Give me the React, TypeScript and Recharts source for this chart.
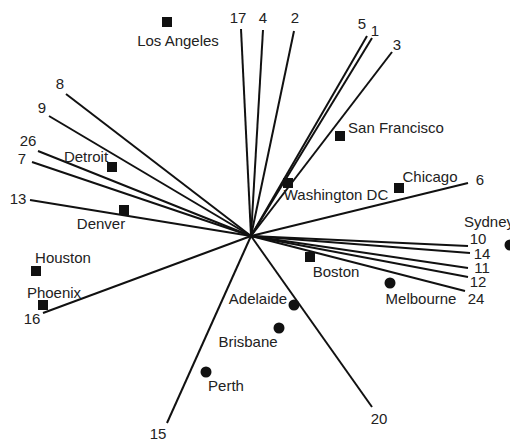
import { ReferenceLine, Scatter, ScatterChart, XAxis, YAxis } from "recharts";

// biplot vectors (variable number, loading on axis 1, axis 2)
const vectorIds = ["1", "2", "3", "4", "5", "6", "7", "8", "9", "10", "11", "12", "13", "14", "15", "16", "17", "20", "24", "26"];
const vectorX = [1.21, 0.43, 1.41, 0.12, 1.16, 2.17, -2.19, -1.85, -2.02, 2.17, 2.17, 2.17, -2.21, 2.19, -0.84, -2.08, -0.1, 1.21, 2.14, -2.13];
const vectorY = [1.98, 2.05, 1.84, 2.06, 2.0, 0.53, 0.74, 1.42, 1.2, -0.1, -0.32, -0.41, 0.36, -0.17, -1.87, -0.77, 2.07, -1.71, -0.55, 0.85];
// label nudges in px from the arrow tip
const vectorLabelNudge: [number, number][] = [
  [3, -8], [1, -14], [5, -8], [0, -13], [-5, -13], [12, -4], [-10, -4], [-6, -11], [-7, -9], [10, -8],
  [14, -1], [10, 4], [-12, -2], [12, 0], [-9, 10], [-11, 5], [-3, -12], [7, 11], [11, 7], [-10, -11],
];

// US cities (squares)
const usCities = ["Los Angeles", "Detroit", "Denver", "Washington DC", "San Francisco", "Chicago", "Boston", "Houston", "Phoenix"];
const usX = [-0.84, -1.39, -1.27, 0.37, 0.89, 1.48, 0.59, -2.15, -2.08];
const usY = [2.14, 0.69, 0.26, 0.53, 1.0, 0.48, -0.21, -0.35, -0.69];
const usLabelNudge: [number, number][] = [[11, 18], [-26, -11], [-23, 13], [48, 11], [56, -9], [31, -12], [26, 14], [27, -14], [11, -13]];

// Australian cities (circles)
const auCities = ["Sydney", "Melbourne", "Adelaide", "Brisbane", "Perth"];
const auX = [2.59, 1.39, 0.43, 0.28, -0.45];
const auY = [-0.09, -0.47, -0.69, -0.92, -1.36];
const auLabelNudge: [number, number][] = [[-21, -24], [31, 15], [-36, -7], [-31, 13], [20, 13]];

const vectors = vectorIds.map((id, i) => ({ id, x: vectorX[i], y: vectorY[i], nudge: vectorLabelNudge[i] }));
const us = usCities.map((name, i) => ({ name, x: usX[i], y: usY[i], nudge: usLabelNudge[i] }));
const au = auCities.map((name, i) => ({ name, x: auX[i], y: auY[i], nudge: auLabelNudge[i] }));

const FONT = "'Liberation Sans', Arial, sans-serif";
const INK = "#111";
const TEXT = "#222";

function Label({ x, y, text }: { x: number; y: number; text: string }) {
  return (
    <text x={x} y={y} textAnchor="middle" dominantBaseline="central" fontSize={15} fontFamily={FONT} fill={TEXT}>
      {text}
    </text>
  );
}

function VectorLabel(props: any) {
  const { cx, cy, payload } = props;
  return <Label x={cx + payload.nudge[0]} y={cy + payload.nudge[1]} text={payload.id} />;
}

function SquareCity(props: any) {
  const { cx, cy, payload } = props;
  return (
    <g>
      <rect x={cx - 5} y={cy - 5} width={10} height={10} fill={INK} />
      <Label x={cx + payload.nudge[0]} y={cy + payload.nudge[1]} text={payload.name} />
    </g>
  );
}

function CircleCity(props: any) {
  const { cx, cy, payload } = props;
  return (
    <g>
      <circle cx={cx} cy={cy} r={5.5} fill={INK} />
      <Label x={cx + payload.nudge[0]} y={cy + payload.nudge[1]} text={payload.name} />
    </g>
  );
}

export default function App() {
  return (
    <div style={{ position: "absolute", left: 0, top: 0, width: 510, height: 441, background: "#fff", overflow: "hidden" }}>
      <ScatterChart width={510} height={441} margin={{ top: 0, right: 0, bottom: 0, left: 0 }}>
        <XAxis type="number" dataKey="x" domain={[-2.51, 2.59]} allowDataOverflow hide />
        <YAxis type="number" dataKey="y" domain={[-2.05, 2.36]} allowDataOverflow hide />
        {vectors.map((v) => (
          <ReferenceLine
            key={v.id}
            segment={[{ x: 0, y: 0 }, { x: v.x, y: v.y }]}
            stroke={INK}
            strokeWidth={2}
            ifOverflow="visible"
          />
        ))}
        <Scatter data={vectors} shape={VectorLabel} isAnimationActive={false} />
        <Scatter data={us} shape={SquareCity} isAnimationActive={false} />
        <Scatter data={au} shape={CircleCity} isAnimationActive={false} />
      </ScatterChart>
    </div>
  );
}
